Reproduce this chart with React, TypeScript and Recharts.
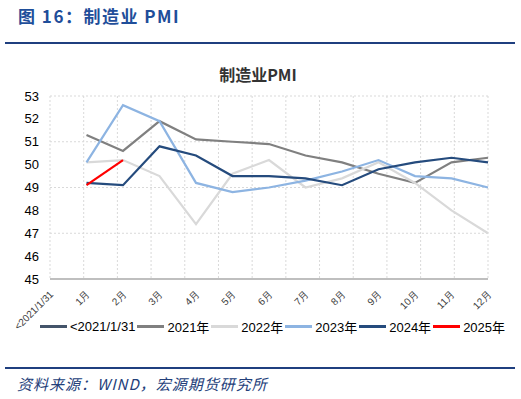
import React from "react";
import {
  LineChart,
  Line,
  XAxis,
  YAxis,
  CartesianGrid,
} from "recharts";

const categories = ["<2021/1/31", "1月", "2月", "3月", "4月", "5月", "6月", "7月", "8月", "9月", "10月", "11月", "12月"];
const yTicks = [45, 46, 47, 48, 49, 50, 51, 52, 53];

const pmiBase: (number | null)[] = [null, null, null, null, null, null, null, null, null, null, null, null, null];
const pmi2021 = [null, 51.3, 50.6, 51.9, 51.1, 51.0, 50.9, 50.4, 50.1, 49.6, 49.2, 50.1, 50.3];
const pmi2022 = [null, 50.1, 50.2, 49.5, 47.4, 49.6, 50.2, 49.0, 49.4, 50.1, 49.2, 48.0, 47.0];
const pmi2023 = [null, 50.1, 52.6, 51.9, 49.2, 48.8, 49.0, 49.3, 49.7, 50.2, 49.5, 49.4, 49.0];
const pmi2024 = [null, 49.2, 49.1, 50.8, 50.4, 49.5, 49.5, 49.4, 49.1, 49.8, 50.1, 50.3, 50.1];
const pmi2025 = [null, 49.1, 50.2, null, null, null, null, null, null, null, null, null, null];

const series = [
  { key: "base", name: "<2021/1/31", color: "#44546a", values: pmiBase },
  { key: "y2021", name: "2021年", color: "#808080", values: pmi2021 },
  { key: "y2022", name: "2022年", color: "#d9d9d9", values: pmi2022 },
  { key: "y2023", name: "2023年", color: "#8db4e2", values: pmi2023 },
  { key: "y2024", name: "2024年", color: "#254b7d", values: pmi2024 },
  { key: "y2025", name: "2025年", color: "#ff0000", values: pmi2025 },
];

const data = categories.map((c, i) => {
  const row: any = { month: c };
  series.forEach((s) => {
    row[s.key] = s.values[i];
  });
  return row;
});

const font = "'Noto Sans CJK SC', 'Noto Sans', sans-serif";

function XTick(props: any) {
  const { x, y, payload } = props;
  return (
    <text
      x={x + 4}
      y={y + 8}
      transform={`rotate(-45, ${x + 4}, ${y + 8})`}
      textAnchor="end"
      fontSize={10}
      fill="#404040"
      fontFamily="'Liberation Sans', sans-serif"
    >
      {payload.value}
    </text>
  );
}

export default function App() {
  return (
    <div style={{ position: "absolute", left: 0, top: 0, width: 521, height: 399, background: "#fff", fontFamily: font }}>
      <div style={{ position: "absolute", left: 18, top: 3, fontSize: 17, fontWeight: 700, color: "#1f4e9a", letterSpacing: 1.5 }}>
        图 16：制造业 PMI
      </div>
      <div style={{ position: "absolute", left: 5, top: 42, width: 510, height: 2, background: "#1f3f7f" }} />
      <div style={{ position: "absolute", left: 0, top: 62, width: 516, textAlign: "center", fontSize: 16, fontWeight: 700, color: "#333" }}>
        制造业PMI
      </div>
      <div style={{ position: "absolute", left: 0, top: 0 }}>
        <LineChart width={521} height={399} data={data} margin={{ top: 96, right: 33, left: 0, bottom: 80 }}>
          <CartesianGrid
            stroke="#d9d9d9"
            strokeDasharray="2 2"
            verticalCoordinatesGenerator={({ offset }: any) =>
              categories.map((_, i) => offset.left + (i * offset.width) / categories.length).concat([offset.left + offset.width])
            }
          />
          <XAxis
            dataKey="month"
            interval={0}
            tick={<XTick />}
            tickLine={false}
            axisLine={{ stroke: "#bfbfbf", strokeWidth: 2 }}
            height={40}
          />
          <YAxis
            domain={[45, 53]}
            ticks={yTicks}
            width={50}
            tickLine={false}
            axisLine={false}
            tickSize={0}
            tickMargin={11}
            tick={{ fontSize: 13, fill: "#000", fontFamily: "'Liberation Sans', sans-serif" }}
          />
          {series.map((s) => (
            <Line
              key={s.key}
              dataKey={s.key}
              name={s.name}
              stroke={s.color}
              strokeWidth={2.2}
              dot={false}
              isAnimationActive={false}
              connectNulls={false}
            />
          ))}
        </LineChart>
      </div>
      <div style={{ position: "absolute", left: 40, top: 317, display: "flex", alignItems: "center", fontSize: 13, color: "#000", fontFamily: "'Liberation Sans', 'Noto Sans CJK SC', sans-serif" }}>
        {series.map((s) => (
          <div key={s.key} style={{ display: "flex", alignItems: "center", marginRight: 2 }}>
            <div style={{ width: 27, height: 2.5, background: s.color, marginRight: 3 }} />
            <span>{s.name}</span>
          </div>
        ))}
      </div>
      <div style={{ position: "absolute", left: 5, top: 367, width: 510, height: 2, background: "#1f3f7f" }} />
      <div style={{ position: "absolute", left: 17, top: 373, fontSize: 15, fontStyle: "italic", color: "#24407a", letterSpacing: 1, fontFamily: "'Noto Sans CJK SC', serif" }}>
        资料来源：WIND，宏源期货研究所
      </div>
    </div>
  );
}
